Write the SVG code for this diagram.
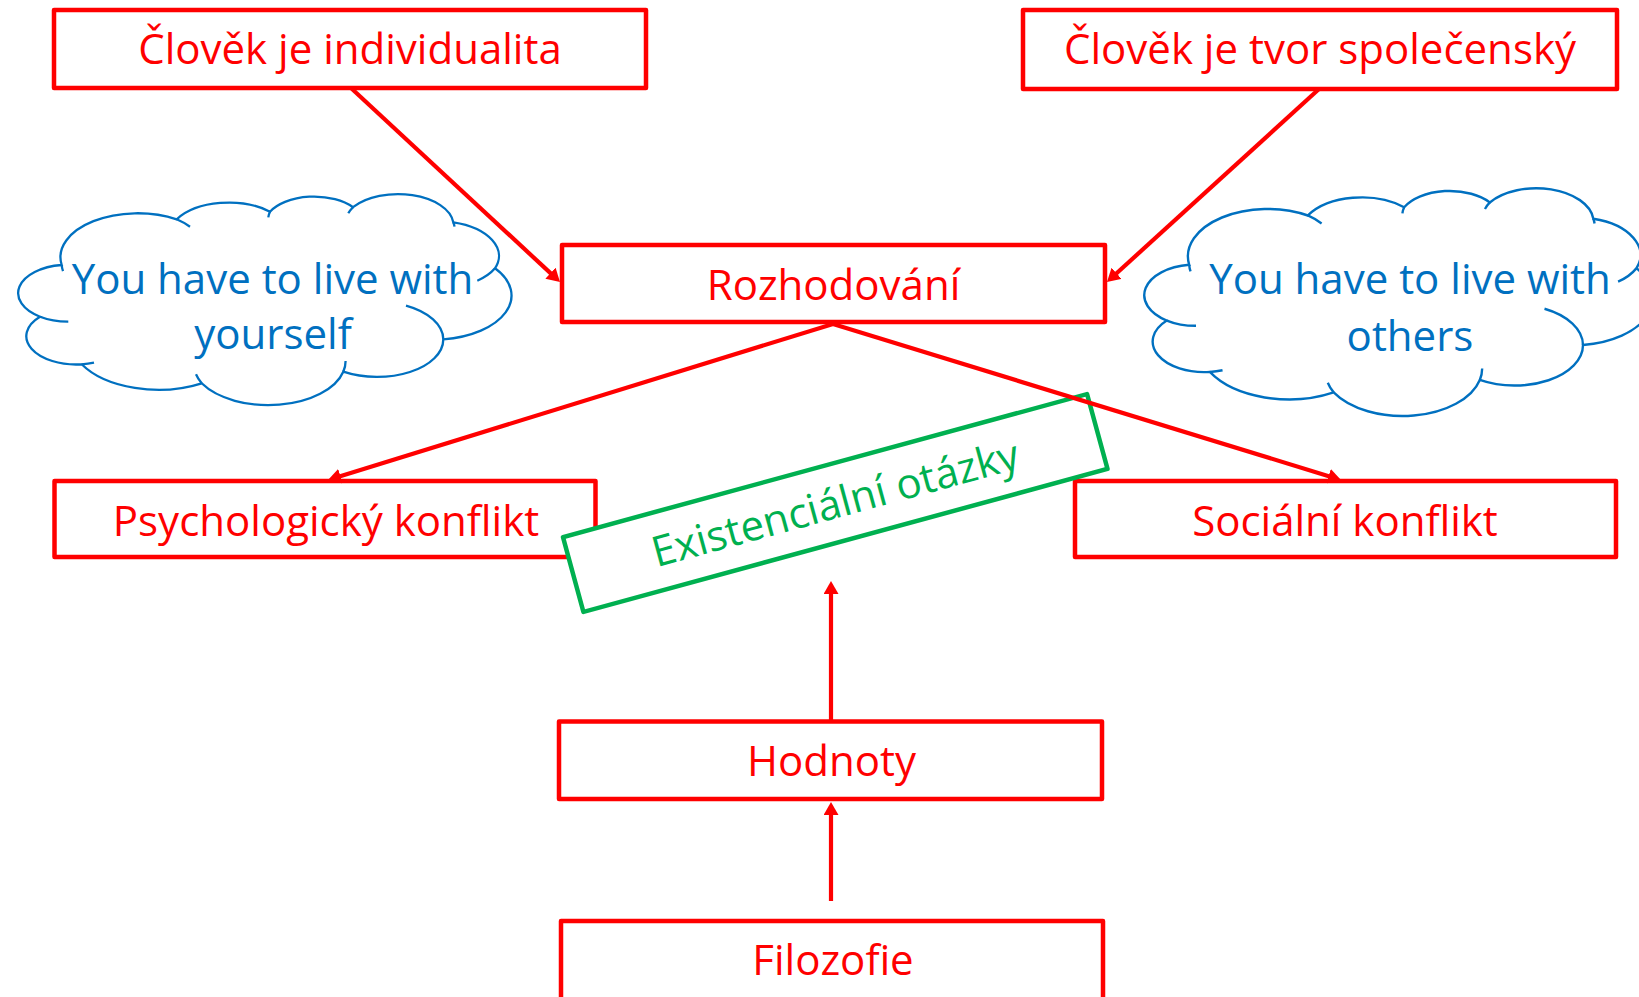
<svg xmlns="http://www.w3.org/2000/svg" width="1639" height="997" viewBox="0 0 1639 997">
<style>
.box{fill:#FFFFFF;stroke:#FF0000;stroke-width:4.5;stroke-linejoin:round}
.lbl{font-family:"Open Sans","Liberation Sans",sans-serif;font-size:42px;fill:#FF0000;text-anchor:middle}
.cl{font-family:"Open Sans","Liberation Sans",sans-serif;font-size:42px;fill:#0070C0;text-anchor:middle}
.cloud{fill:#FFFFFF;stroke:#0070C0;stroke-width:2.3;vector-effect:non-scaling-stroke}
.tail{fill:none;stroke:#0070C0;stroke-width:2.3;vector-effect:non-scaling-stroke}
.con{fill:none;stroke:#FF0000;stroke-width:4.2;marker-end:url(#ah)}
</style>
<defs>
<marker id="ah" markerUnits="userSpaceOnUse" markerWidth="13" markerHeight="15" viewBox="0 0 13 15" refX="7" refY="7.5" orient="auto">
<path d="M0,0 L13,7.5 L0,15 z" fill="#FF0000"/>
</marker>
<path id="cloudShape" d="M46.7 69.3 A77.2 43.9 0 0 1 161.7 23.6 A61 34.75 0 0 1 255 16 A49.9 28.4 0 0 1 338 11.5 A55.5 31.5 0 0 1 438.3 26.6 A61 34.8 0 0 1 480 72.6 A77.5 44.1 0 0 1 428.3 143.6 A66.2 37.6 0 0 1 328.3 176 A77.2 44.1 0 0 1 186.7 187.6 A88.3 50.4 0 0 1 66.7 168.6 A49.9 28.3 0 0 1 25 121 A49.7 28.4 0 0 1 46.7 69.3 Z"/>
<path id="cloudTails" d="M48 75.5 A77.2 43.9 0 0 1 46.7 69.3 M161.7 23.6 A77.2 43.9 0 0 1 175 31 M253.3 21.6 A49.9 28.4 0 0 1 255 16 M333.3 17.6 A55.5 31.5 0 0 1 338 11.5 M438.3 26.6 A55.5 31.5 0 0 1 439.5 31 M480 72.6 A61 34.8 0 0 1 462.3 85 M391 110 A66.2 37.6 0 0 1 428.3 143.6 M330.6 165.4 A77.2 44.1 0 0 1 328.3 176 M186.7 187.6 A77.2 44.1 0 0 1 181 178.6 M79 167 A49.9 28.3 0 0 1 66.7 168.6 M53.3 125.9 A49.7 28.4 0 0 1 25 121"/>
</defs>
<rect width="1639" height="997" fill="#FFFFFF"/>

<g id="cloud-left">
<g transform="translate(15 195.7)">
<use href="#cloudShape" class="cloud"/>
<use href="#cloudTails" class="tail"/>
</g>
<text class="cl" x="272.5" y="293.5">You have to live with</text>
<text class="cl" x="273" y="349">yourself</text>
</g>

<g id="cloud-right">
<g transform="translate(1141 190) scale(1.032 1.079)">
<use href="#cloudShape" class="cloud"/>
<use href="#cloudTails" class="tail"/>
</g>
<text class="cl" x="1410" y="293.5">You have to live with</text>
<text class="cl" x="1410" y="351">others</text>
</g>

<g id="node-individualita">
<rect class="box" x="54" y="10" width="592" height="78"/>
<text class="lbl" x="350" y="64">Člověk je individualita</text>
</g>

<g id="node-spolecensky">
<rect class="box" x="1023" y="10" width="594" height="79"/>
<text class="lbl" x="1320" y="64">Člověk je tvor společenský</text>
</g>

<g id="node-rozhodovani">
<rect class="box" x="562" y="245" width="543" height="77"/>
<text class="lbl" x="833.5" y="300">Rozhodování</text>
</g>

<g id="node-psychologicky">
<rect class="box" x="54.5" y="481" width="541" height="76"/>
<text class="lbl" x="326" y="536">Psychologický konflikt</text>
</g>

<g id="node-socialni">
<rect class="box" x="1075" y="481" width="541" height="76"/>
<text class="lbl" x="1345" y="536">Sociální konflikt</text>
</g>

<g id="node-hodnoty">
<rect class="box" x="559" y="721.5" width="543" height="77.5"/>
<text class="lbl" x="831.5" y="776">Hodnoty</text>
</g>

<g id="node-filozofie">
<rect class="box" x="561" y="921" width="542" height="80"/>
<text class="lbl" x="833" y="975">Filozofie</text>
</g>

<g id="node-existencialni" transform="translate(835.25 503) rotate(-15.26)">
<rect x="-271.6" y="-38.8" width="543.2" height="77.6" fill="#FFFFFF" stroke="#00B050" stroke-width="4.5" stroke-linejoin="round"/>
<text x="0" y="15" font-family="'Open Sans','Liberation Sans',sans-serif" font-size="42" fill="#00B050" text-anchor="middle">Existenciální otázky</text>
</g>

<g id="connectors">
<path class="con" d="M351 88 L555.6 277.9"/>
<path class="con" d="M1319 89 L1111.4 278"/>
<path class="con" d="M833 324 L333.7 478.2"/>
<path class="con" d="M833 324 L1335.3 478.2"/>
<path class="con" d="M831 720 L831 587"/>
<path class="con" d="M831 901 L831 808"/>
</g>
</svg>
